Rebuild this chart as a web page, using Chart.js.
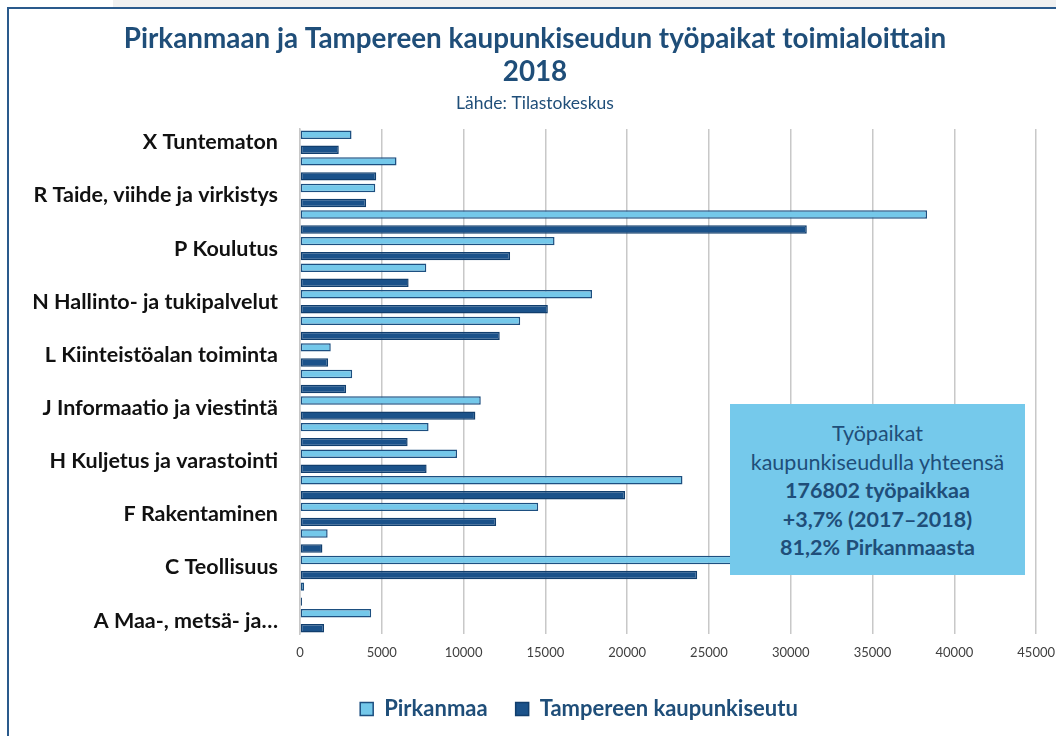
<!DOCTYPE html>
<html>
<head>
<meta charset="utf-8">
<script src="https://cdn.jsdelivr.net/npm/chart.js@4.4.1/dist/chart.umd.min.js"></script>
<style>
  html, body { margin: 0; padding: 0; background: #fff; }
  #wrap { position: relative; width: 1056px; height: 736px; overflow: hidden; }
  #strip { position: absolute; left: 113px; top: 0; width: 943px; height: 7px; background: #f0f0f0; }
  #topline { position: absolute; left: 7px; top: 7px; width: 1049px; height: 2px; background: #2a5a8c; }
  #leftline { position: absolute; left: 7px; top: 7px; width: 2px; height: 729px; background: #2a5a8c; }
  #chart { position: absolute; left: 0; top: 0; }
  #note { position: absolute; left: 730px; top: 404px; width: 295px; height: 171px;
          background: #75c9eb; color: #1f4e79; font-family: Lato, "Open Sans", sans-serif;
          font-size: 21.5px; line-height: 28.5px; text-align: center; box-sizing: border-box;
          padding-top: 15px; }
  #note b { font-weight: 700; }
</style>
</head>
<body>
<div id="wrap">
  <div id="strip"></div>
  <div id="topline"></div>
  <div id="leftline"></div>
  <canvas id="chart" width="1056" height="736"></canvas>
  <div id="note">
    Työpaikat<br>
    kaupunkiseudulla yhteensä<br>
    <b>176802 työpaikkaa</b><br>
    <b>+3,7% (2017–2018)</b><br>
    <b>81,2% Pirkanmaasta</b>
  </div>
</div>
<script>
// toimialat, ylhäältä alas kuten kuvassa
const categories = [
  "X Tuntematon",
  "S Muu palvelutoiminta",
  "R Taide, viihde ja virkistys",
  "Q Terveys- ja sosiaalipalvelut",
  "P Koulutus",
  "O Julkinen hallinto ja maanpuolustus",
  "N Hallinto- ja tukipalvelut",
  "M Ammatillinen, tieteellinen ja tekninen toiminta",
  "L Kiinteistöalan toiminta",
  "K Rahoitus- ja vakuutustoiminta",
  "J Informaatio ja viestintä",
  "I Majoitus- ja ravitsemistoiminta",
  "H Kuljetus ja varastointi",
  "G Kauppa",
  "F Rakentaminen",
  "D-E Energia- ja vesihuolto",
  "C Teollisuus",
  "B Kaivostoiminta ja louhinta",
  "A Maa-, metsä- ja…"
];
const pirkanmaa = [3150, 5900, 4600, 38330, 15560, 7720, 17850, 13460, 1880, 3190,
                   11050, 7860, 9600, 23380, 14560, 1690, 33400, 250, 4350];
const tampereenSeutu = [2370, 4660, 4040, 30980, 12840, 6640, 15150, 12210, 1720, 2820,
                        10720, 6580, 7740, 19870, 11990, 1370, 24280, 120, 1470];
const xTicks = [0, 5000, 10000, 15000, 20000, 25000, 30000, 35000, 40000, 45000];

const FONT = 'Lato, "Open Sans", sans-serif';
const darkBlue = "#1f4e79";

// siirretään selite ja otsikot vähän oikealle kuten alkuperäisessä
const blockShift = {
  id: "blockShift",
  afterLayout(chart) {
    chart.legend.left += 51;
    chart.legend.right += 51;
    chart.boxes.forEach(b => {
      if (b.position === "top" && b.options && b.options.text) {
        b.left += 7;
        b.right += 7;
      }
    });
  }
};

const ctx = document.getElementById("chart");
const myChart = new Chart(ctx, {
  type: "bar",
  data: {
    labels: categories,
    datasets: [
      {
        label: "Pirkanmaa",
        data: pirkanmaa,
        backgroundColor: "#74c8ea",
        borderColor: "#1d4f80",
        borderWidth: 1.5,
        borderSkipped: false,
        categoryPercentage: 1.13,
        barPercentage: 0.56
      },
      {
        label: "Tampereen kaupunkiseutu",
        data: tampereenSeutu,
        backgroundColor: "#1b528a",
        borderColor: "#113e6d",
        borderWidth: 1.5,
        borderSkipped: false,
        categoryPercentage: 1.13,
        barPercentage: 0.56
      }
    ]
  },
  plugins: [blockShift],
  options: {
    indexAxis: "y",
    responsive: false,
    animation: false,
    layout: { padding: { left: 0, right: 0, top: 0, bottom: 6 } },
    scales: {
      x: {
        min: 0,
        max: 45000,
        afterBuildTicks: (scale) => { scale.ticks = xTicks.map(v => ({ value: v })); },
        afterFit: (scale) => { scale.height = 36; },
        grid: { color: "#c8c8c8", lineWidth: 1.5, drawTicks: true, tickLength: 10, tickColor: "rgba(0,0,0,0)" },
        border: { display: false },
        ticks: {
          color: "#404040",
          font: { family: FONT, size: 13 },
          padding: 1,
          callback: (v) => String(v)
        }
      },
      y: {
        afterFit: (scale) => { scale.width = 300; },
        grid: { display: false, drawTicks: false },
        border: { display: true, color: "#c8c8c8", width: 1.5 },
        ticks: {
          autoSkip: false,
          padding: 22,
          color: "#111",
          font: { family: FONT, size: 21.5, weight: "bold" },
          callback: function (value, index) {
            return index % 2 === 0 ? this.getLabelForValue(value) : "";
          }
        }
      }
    },
    plugins: {
      title: {
        display: true,
        text: ["Pirkanmaan ja Tampereen kaupunkiseudun työpaikat toimialoittain", "2018"],
        color: darkBlue,
        font: { family: FONT, size: 27.8, weight: "bold", lineHeight: 1.187 },
        padding: { top: 23, bottom: 4 }
      },
      subtitle: {
        display: true,
        text: "Lähde: Tilastokeskus",
        color: darkBlue,
        font: { family: FONT, size: 17.5, weight: "normal", lineHeight: 1.2 },
        padding: { top: 0, bottom: 15 }
      },
      legend: {
        position: "bottom",
        labels: {
          color: darkBlue,
          font: { family: FONT, size: 22, weight: "bold" },
          boxWidth: 13,
          boxHeight: 13,
          padding: 28
        }
      },
      tooltip: { enabled: false }
    }
  }
});
</script>
</body>
</html>
